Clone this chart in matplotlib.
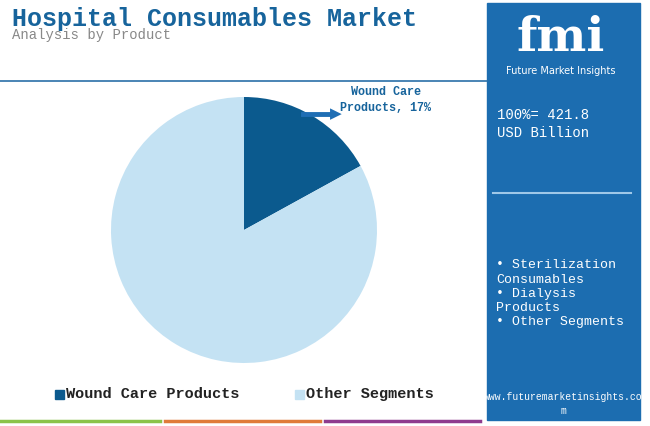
import matplotlib.pyplot as plt
from matplotlib.patches import Rectangle

labels = ["Wound Care Products", "Other Segments"]
shares = [17, 83]
colors = ["#0b5a8e", "#c4e2f3"]
total_text = "100%= 421.8\nUSD Billion"
others = ["\u2022 Sterilization\nConsumables", "\u2022 Dialysis\nProducts", "\u2022 Other Segments"]

W, H = 650, 426
fig = plt.figure(figsize=(6.5, 4.26), dpi=100)
font = "Liberation Mono"

def fx(x): return x / W
def fy(y): return 1 - y / H

# header
fig.text(fx(12), fy(19), "Hospital Consumables Market", fontsize=18, fontweight="bold",
         color="#17649c", family=font, va="center")
fig.text(fx(12), fy(35), "Analysis by Product", fontsize=10, color="#888888", family=font, va="center")
fig.add_artist(plt.Line2D([0, fx(487)], [fy(81)] * 2, color="#2a6fa8", lw=1.2))

# right panel
fig.add_artist(Rectangle((fx(487), fy(420)), fx(153), (417) / H, color="#1c6db0", transform=fig.transFigure))
fig.text(fx(561), fy(38), "fmi", fontsize=34, fontweight="bold", color="white", ha="center", va="center",
         family="DejaVu Serif")
fig.text(fx(561), fy(71), "Future Market Insights", fontsize=7, color="white", ha="center", va="center")
fig.text(fx(497), fy(124), total_text, fontsize=10, color="white", family=font, va="center", linespacing=1.3)
fig.add_artist(plt.Line2D([fx(493), fx(631)], [fy(193)] * 2, color="#9fc8e8", lw=1.5))
fig.text(fx(496), fy(294), "\n".join(others), fontsize=9.5, color="white", family=font, va="center",
         linespacing=1.25)
fig.text(fx(563), fy(404), "www.futuremarketinsights.co\nm", fontsize=7, color="white", family=font,
         ha="center", va="center", linespacing=1.6)

# bottom stripes
for x0, x1, c in [(0, 160, "#8bc34a"), (165, 320, "#e07b39"), (325, 480, "#8e3b8e")]:
    fig.add_artist(plt.Line2D([fx(x0), fx(x1)], [fy(421)] * 2, color=c, lw=2.5))

# pie
ax = fig.add_axes([fx(244 - 140), fy(230 + 140), 280 / W, 280 / H])
ax.pie(shares, colors=colors, startangle=90, counterclock=False, radius=133 / 140,
       wedgeprops=dict(linewidth=0))
ax.set_xlim(-1, 1)
ax.set_ylim(-1, 1)
ax.set_aspect("auto")
ax.axis("off")

fig.text(fx(386), fy(100), "Wound Care\nProducts, 17%", fontsize=8.5, fontweight="bold", color="#17649c",
         family=font, ha="center", va="center", linespacing=1.4)
fig.add_artist(plt.Line2D([fx(303), fx(332)], [fy(114)] * 2, color="#1f6eb4", lw=3.5))
fig.text(fx(336), fy(114), "\u25B6", fontsize=11, color="#1f6eb4", ha="center", va="center")

# legend
fig.add_artist(Rectangle((fx(55), fy(399)), 9 / W, 9 / H, color=colors[0], transform=fig.transFigure))
fig.text(fx(66), fy(394), labels[0], fontsize=11, fontweight="bold", color="#222222", family=font, va="center")
fig.add_artist(Rectangle((fx(295), fy(399)), 9 / W, 9 / H, color=colors[1], transform=fig.transFigure))
fig.text(fx(306), fy(394), labels[1], fontsize=11, fontweight="bold", color="#222222", family=font, va="center")

fig.savefig("out.png", dpi=100)
